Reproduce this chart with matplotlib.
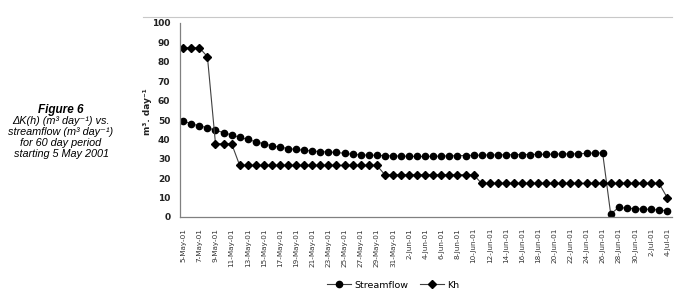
"""Figure 6: change in K(h) vs streamflow over 60 days from 5 May 2001."""

import matplotlib
matplotlib.use("Agg")
import matplotlib.pyplot as plt
import pandas as pd
from matplotlib.lines import Line2D

dates = pd.date_range("2001-05-05", "2001-07-04", freq="D")

streamflow = [
    49.5, 48.0, 47.0, 46.0, 44.7, 43.5, 42.3, 41.1, 40.0, 38.8,
    37.7, 36.7, 36.0, 35.3, 34.8, 34.4, 34.0, 33.7, 33.5, 33.3,
    32.8, 32.3, 32.0, 31.9, 31.8, 31.6, 31.5, 31.4, 31.3, 31.2,
    31.2, 31.3, 31.4, 31.5, 31.6, 31.7, 31.8, 31.9, 32.0, 32.0,
    32.1, 32.1, 32.2, 32.2, 32.3, 32.3, 32.4, 32.5, 32.5, 32.6,
    32.8, 33.0, 33.0, 1.5, 5.0, 4.5, 4.3, 4.1, 3.9, 3.6, 3.2,
]

kh = (
    [87.3] * 3 + [82.6] + [37.8] * 3 + [26.6] * 18
    + [21.8] * 12 + [17.3] * 23 + [10.0]
)

date_labels = [f"{d.day}-{d.strftime('%b')}-{d.strftime('%y')}" for d in dates]

W, H = 682, 299
fig = plt.figure(figsize=(W / 100, H / 100), dpi=100)

# axes placed in pixel terms
left, right, top, bottom = 180, 672, 23, 217
ax = fig.add_axes([left / W, 1 - bottom / H, (right - left) / W, (bottom - top) / H])

x = list(range(len(dates)))
ax.plot(x, streamflow, color="#404040", lw=0.8, marker="o", ms=4.5,
        mfc="black", mec="black", label="Streamflow")
ax.plot(x, kh, color="#404040", lw=0.8, marker="D", ms=4.0,
        mfc="black", mec="black", label="Kh")

ax.set_xlim(-0.4, len(dates) - 0.4)
ax.set_ylim(0, 100)
ax.set_yticks(range(0, 101, 10))
ax.set_xticks(x[::2])
ax.set_xticklabels(date_labels[::2], rotation=90, fontsize=5.2, color="#333333")
for lbl in ax.get_yticklabels():
    lbl.set_fontsize(6.5)
    lbl.set_fontweight("bold")
    lbl.set_color("#222222")
ax.tick_params(axis="both", length=0, pad=7)
ax.tick_params(axis="x", pad=8)

for side in ["top", "right"]:
    ax.spines[side].set_visible(False)
for side in ["left", "bottom"]:
    ax.spines[side].set_color("#808080")
    ax.spines[side].set_linewidth(0.9)

fig.text(148 / W, 1 - 112 / H, "m³. day⁻¹", rotation=90, ha="center",
         va="center", fontsize=6.5, fontweight="bold", color="#222222")

# thin grey border across top of chart area
fig.add_artist(Line2D([143 / W, 672 / W], [1 - 17 / H, 1 - 17 / H],
                      color="#c8c8c8", lw=0.8))

leg = fig.legend(loc="center", bbox_to_anchor=(393 / W, 1 - 285 / H), ncol=2,
                 frameon=False, fontsize=6.8, handlelength=2.6,
                 columnspacing=1.2, handletextpad=0.3)

# caption on the left
cap_fam = ["Liberation Sans", "DejaVu Sans"]
fig.text(61 / W, 1 - 110 / H, "Figure 6", ha="center", va="center",
         fontsize=8.5, fontweight="bold", style="italic", family=cap_fam)
caption = ["ΔK(h) (m³ day⁻¹) vs.", "streamflow (m³ day⁻¹)",
           "for 60 day period", "starting 5 May 2001"]
for i, line in enumerate(caption):
    fig.text(61 / W, 1 - (121 + i * 11) / H, line, ha="center", va="center",
             fontsize=7.8, style="italic", family=cap_fam)

fig.savefig("out.png", dpi=100)
